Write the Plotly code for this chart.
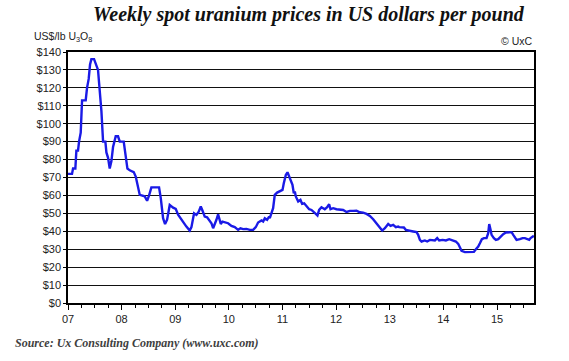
import plotly.graph_objects as go

# Decimal year (date) and spot price in US$/lb U3O8
dates = [
    2007.0, 2007.075, 2007.094, 2007.137, 2007.156, 2007.187, 2007.206, 2007.237, 2007.262, 2007.33,
    2007.355, 2007.386, 2007.411, 2007.436, 2007.486, 2007.529, 2007.56, 2007.579, 2007.623, 2007.654,
    2007.697, 2007.716, 2007.747, 2007.778, 2007.809, 2007.84, 2007.89, 2007.933, 2007.965, 2008.039,
    2008.077, 2008.108, 2008.151, 2008.226, 2008.263, 2008.307, 2008.338, 2008.431, 2008.475, 2008.512,
    2008.555, 2008.698, 2008.73, 2008.773, 2008.81, 2008.848, 2008.897, 2008.96, 2009.009, 2009.053,
    2009.096, 2009.146, 2009.208, 2009.27, 2009.302, 2009.351, 2009.395, 2009.438, 2009.476, 2009.507,
    2009.55, 2009.594, 2009.631, 2009.675, 2009.706, 2009.743, 2009.768, 2009.799, 2009.83, 2009.849,
    2009.88, 2009.923, 2009.986, 2010.048, 2010.11, 2010.172, 2010.216, 2010.266, 2010.328, 2010.39,
    2010.452, 2010.502, 2010.545, 2010.608, 2010.639, 2010.67, 2010.713, 2010.751, 2010.763, 2010.825,
    2010.856, 2010.9, 2010.95, 2011.0, 2011.024, 2011.062, 2011.093, 2011.124, 2011.155, 2011.186,
    2011.211, 2011.23, 2011.248, 2011.292, 2011.335, 2011.366, 2011.404, 2011.447, 2011.497, 2011.541,
    2011.572, 2011.621, 2011.652, 2011.683, 2011.727, 2011.789, 2011.833, 2011.87, 2011.895, 2011.945,
    2012.007, 2012.069, 2012.131, 2012.194, 2012.256, 2012.318, 2012.38, 2012.442, 2012.504, 2012.567,
    2012.629, 2012.691, 2012.753, 2012.815, 2012.859, 2012.909, 2012.971, 2013.014, 2013.064, 2013.114,
    2013.157, 2013.176, 2013.22, 2013.263, 2013.3, 2013.344, 2013.388, 2013.437, 2013.5, 2013.53,
    2013.562, 2013.593, 2013.655, 2013.698, 2013.748, 2013.798, 2013.842, 2013.885, 2013.922, 2013.985,
    2014.047, 2014.109, 2014.152, 2014.196, 2014.233, 2014.277, 2014.308, 2014.339, 2014.401, 2014.463,
    2014.526, 2014.569, 2014.606, 2014.65, 2014.681, 2014.718, 2014.756, 2014.805, 2014.836, 2014.855,
    2014.88, 2014.899, 2014.942, 2014.98, 2015.023, 2015.067, 2015.116, 2015.166, 2015.228, 2015.272,
    2015.303, 2015.334, 2015.365, 2015.427, 2015.477, 2015.52, 2015.564, 2015.601, 2015.626, 2015.663,
    2015.688,
]
prices = [
    72.0, 72.0, 75.0, 75.0, 85.0, 85.0, 90.0, 95.0, 113.0, 113.0,
    120.0, 125.0, 133.0, 136.0, 136.0, 133.0, 130.0, 123.0, 107.0, 90.0,
    90.0, 84.0, 81.0, 75.0, 79.0, 87.0, 93.0, 93.0, 90.0, 90.0,
    80.0, 75.0, 74.0, 73.0, 70.5, 65.0, 60.3, 59.5, 57.0, 60.0,
    64.5, 64.5, 58.5, 47.3, 44.0, 46.5, 54.7, 53.2, 52.5, 49.2,
    47.3, 45.4, 42.6, 40.4, 42.3, 50.0, 49.1, 50.9, 53.8, 51.6,
    48.2, 47.8, 46.4, 44.5, 41.7, 44.1, 46.4, 49.5, 46.4, 44.1,
    45.4, 44.9, 44.5, 43.0, 42.3, 40.8, 41.7, 41.2, 41.3, 40.8,
    40.8, 42.3, 44.9, 46.0, 45.4, 47.3, 46.4, 48.2, 47.3, 52.9,
    60.3, 61.6, 62.2, 63.1, 66.8, 71.4, 72.9, 70.5, 67.7, 65.9,
    61.2, 62.2, 59.4, 56.6, 57.5, 55.3, 55.6, 53.8, 52.3, 51.9,
    50.8, 49.7, 48.8, 51.9, 53.4, 52.3, 53.4, 55.1, 52.3, 52.9,
    52.3, 51.9, 51.9, 50.8, 51.4, 51.4, 51.5, 50.6, 50.4, 49.7,
    48.6, 46.7, 44.5, 42.3, 40.4, 41.7, 44.1, 43.0, 43.6, 42.3,
    42.6, 42.3, 42.3, 42.1, 40.8, 40.4, 40.2, 39.9, 39.5, 38.0,
    35.2, 34.3, 34.9, 34.3, 35.2, 34.9, 34.9, 36.2, 34.9, 35.2,
    34.9, 35.6, 35.2, 34.9, 34.3, 33.0, 30.6, 29.1, 28.4, 28.4,
    28.4, 28.5, 30.0, 31.5, 33.3, 35.6, 36.2, 36.2, 38.9, 44.0,
    40.8, 38.0, 36.2, 35.2, 35.6, 37.1, 38.4, 39.3, 39.3, 39.5,
    38.0, 36.7, 35.2, 35.6, 36.2, 36.2, 35.8, 35.2, 36.2, 37.1,
    37.5,
]

x_tick_vals = [2007, 2008, 2009, 2010, 2011, 2012, 2013, 2014, 2015]
x_tick_text = ["07", "08", "09", "10", "11", "12", "13", "14", "15"]
y_tick_vals = list(range(0, 141, 10))
y_tick_text = ["$" + str(v) for v in y_tick_vals]

fig = go.Figure()
fig.add_trace(go.Scatter(
    x=dates, y=prices, mode="lines",
    line=dict(color="#1a1ae6", width=2.4),
    showlegend=False, hoverinfo="skip",
))

tick_font = dict(family="Liberation Sans, Arial, sans-serif", size=11, color="#222222")

fig.update_layout(
    width=569, height=361,
    margin=dict(l=68, r=35, t=52, b=58),
    paper_bgcolor="white", plot_bgcolor="white",
    font=tick_font,
    xaxis=dict(
        range=[2007, 2015.69], tickmode="array", tickvals=x_tick_vals, ticktext=x_tick_text,
        showgrid=False, zeroline=False, showline=True, linecolor="black", linewidth=1.5,
        mirror=True, ticks="outside", ticklen=5, tickcolor="black", tickwidth=1.2,
        minor=dict(dtick=0.25, tick0=2007, ticks="outside", ticklen=3, tickcolor="black", tickwidth=1),
        tickfont=tick_font,
    ),
    yaxis=dict(
        range=[0, 140], tickmode="array", tickvals=y_tick_vals, ticktext=y_tick_text,
        showgrid=True, gridcolor="#111111", gridwidth=1.3, zeroline=False,
        showline=True, linecolor="black", linewidth=1.5, mirror=True,
        ticks="outside", ticklen=3, tickcolor="black", tickfont=tick_font,
    ),
)

fig.add_annotation(
    text="<b><i>Weekly spot uranium prices in US dollars per pound</i></b>",
    xref="paper", yref="paper", x=0.517, y=1.0, yshift=38, xanchor="center", yanchor="middle",
    showarrow=False,
    font=dict(family="Liberation Serif, DejaVu Serif, serif", size=20, color="#111111"),
)
fig.add_annotation(
    text="US$/lb U<sub>3</sub>O<sub>8</sub>",
    xref="paper", yref="paper", x=-0.078, y=1.0, yshift=15, xanchor="left", yanchor="middle",
    showarrow=False, font=dict(family="Liberation Sans, Arial, sans-serif", size=10.5, color="#222222"),
)
fig.add_annotation(
    text="© UxC",
    xref="paper", yref="paper", x=1.0, y=1.0, yshift=11, xanchor="right", yanchor="middle",
    showarrow=False, font=dict(family="Liberation Sans, Arial, sans-serif", size=10.5, color="#222222"),
)
fig.add_annotation(
    text="<b><i>Source: Ux Consulting Company (www.uxc.com)</i></b>",
    xref="paper", yref="paper", x=-0.118, y=0.0, yshift=-40, xanchor="left", yanchor="middle",
    showarrow=False, font=dict(family="Liberation Serif, DejaVu Serif, serif", size=12, color="#404040"),
)

fig.write_html("out.html", config={"displayModeBar": False},
               post_script="document.body.style.margin='0';")
